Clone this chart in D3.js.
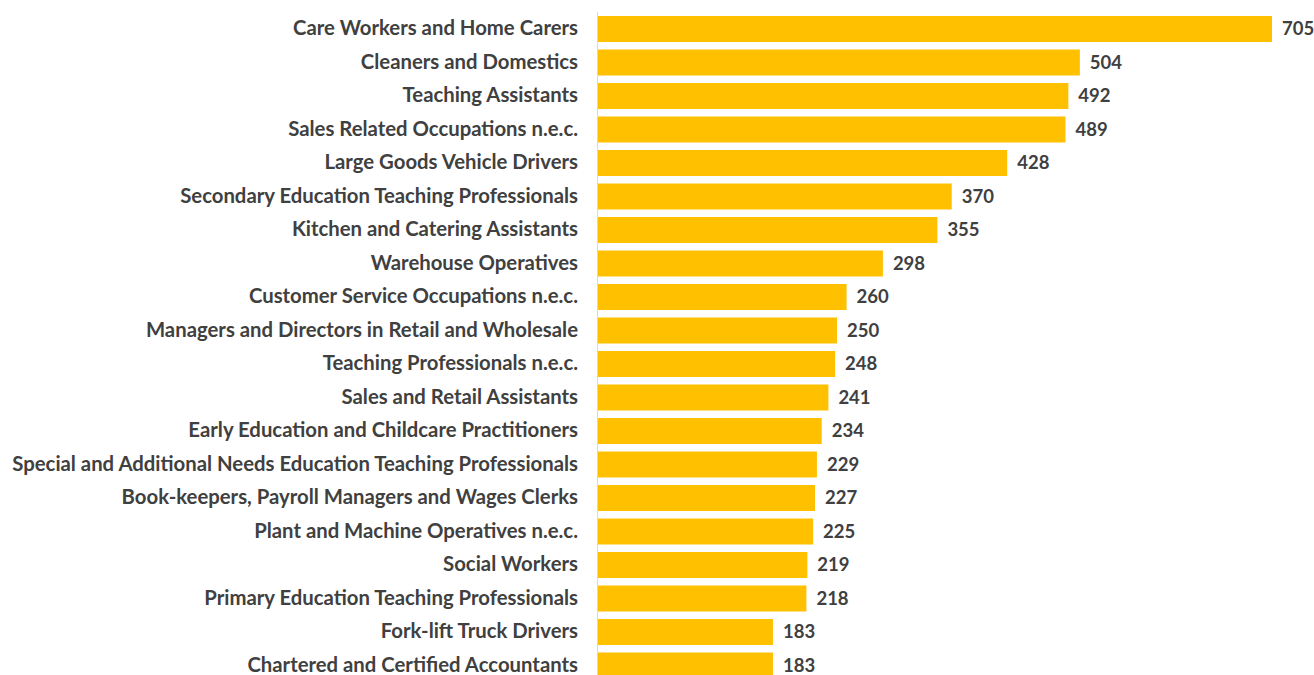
<!DOCTYPE html>
<html>
<head>
<meta charset="utf-8">
<script src="https://cdn.jsdelivr.net/npm/d3@7"></script>
<style>
  body { margin: 0; background: #fff; }
  text { font-family: Lato, "Open Sans", sans-serif; font-weight: bold; fill: #404040; }
</style>
</head>
<body>
<div id="chart"></div>
<script>
// Occupations and counts, top to bottom
const occupations = [
    "Care Workers and Home Carers",
    "Cleaners and Domestics",
    "Teaching Assistants",
    "Sales Related Occupations n.e.c.",
    "Large Goods Vehicle Drivers",
    "Secondary Education Teaching Professionals",
    "Kitchen and Catering Assistants",
    "Warehouse Operatives",
    "Customer Service Occupations n.e.c.",
    "Managers and Directors in Retail and Wholesale",
    "Teaching Professionals n.e.c.",
    "Sales and Retail Assistants",
    "Early Education and Childcare Practitioners",
    "Special and Additional Needs Education Teaching Professionals",
    "Book-keepers, Payroll Managers and Wages Clerks",
    "Plant and Machine Operatives n.e.c.",
    "Social Workers",
    "Primary Education Teaching Professionals",
    "Fork-lift Truck Drivers",
    "Chartered and Certified Accountants"
];
const counts = [705, 504, 492, 489, 428, 370, 355, 298, 260, 250, 248, 241, 234, 229, 227, 225, 219, 218, 183, 183];

const width = 1314;
const height = 675;
const axisX = 597;

const data = occupations.map((name, i) => ({ name, value: counts[i] }));

const svg = d3.select("#chart")
    .append("svg")
    .attr("width", width)
    .attr("height", height);

const xScale = d3.scaleLinear()
    .domain([0, 705])
    .range([axisX + 1, 1272]);

const yScale = d3.scaleBand()
    .domain(occupations)
    .range([12.25, 12.25 + 33.5 * occupations.length])
    .paddingInner(0.224)
    .paddingOuter(0.112);

// Bars
svg.selectAll(".bar")
    .data(data)
    .enter()
    .append("rect")
    .attr("class", "bar")
    .attr("x", xScale(0))
    .attr("y", d => yScale(d.name))
    .attr("width", d => xScale(d.value) - xScale(0))
    .attr("height", yScale.bandwidth())
    .attr("fill", "#FFC000");

// Vertical axis line
svg.append("line")
    .attr("x1", axisX + 0.5)
    .attr("x2", axisX + 0.5)
    .attr("y1", 12)
    .attr("y2", height)
    .attr("stroke", "#d9d9d9")
    .attr("stroke-width", 1);

// Category labels
const labels = svg.selectAll(".cat")
    .data(data)
    .enter()
    .append("text")
    .attr("class", "cat")
    .attr("x", 578)
    .attr("y", d => yScale(d.name) + yScale.bandwidth() / 2 - 1)
    .attr("dy", "0.35em")
    .attr("text-anchor", "end")
    .style("font-size", "18px")
    .text(d => d.name);

// Fit the longest label to the width seen in the picture
const longest = d3.max(labels.nodes(), n => n.getComputedTextLength());
const fontSize = 18 * 566 / longest;
labels.style("font-size", fontSize + "px");

// Value labels
svg.selectAll(".val")
    .data(data)
    .enter()
    .append("text")
    .attr("class", "val")
    .attr("x", d => xScale(d.value) + 10)
    .attr("y", d => yScale(d.name) + yScale.bandwidth() / 2 - 1)
    .attr("dy", "0.38em")
    .style("font-size", "18.5px")
    .text(d => d.value);
</script>
</body>
</html>
